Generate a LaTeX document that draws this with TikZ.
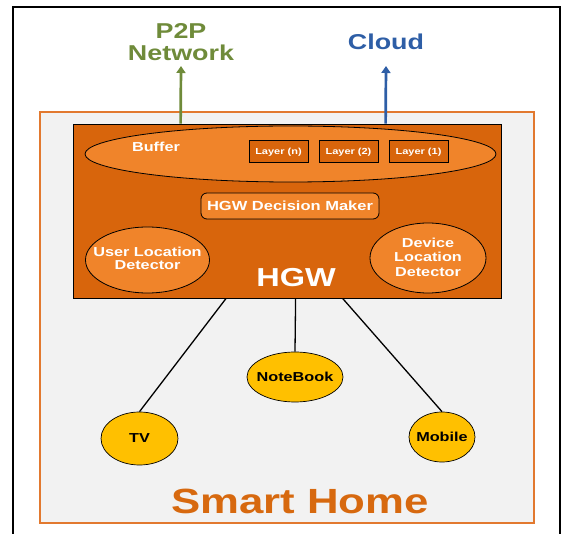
\documentclass[tikz,border=0pt]{standalone}
\usepackage{fontspec}
\setmainfont{Liberation Sans}[FakeStretch=1.25]
\usetikzlibrary{shapes.geometric,arrows.meta,calc}
\definecolor{homeBg}{HTML}{F2F2F2}
\definecolor{homeLine}{HTML}{E2792F}
\definecolor{homeText}{HTML}{D7690F}
\definecolor{hgwFill}{HTML}{D8650C}
\definecolor{partFill}{HTML}{F0842A}
\definecolor{devFill}{HTML}{FFC000}
\definecolor{p2pCol}{HTML}{6F8B3A}
\definecolor{cloudCol}{HTML}{2E5EA6}
\tikzset{
  txt/.style={inner sep=0pt, align=center, font=\bfseries},
  wtxt/.style={txt, text=white},
  part/.style={draw=black, line width=0.8pt, fill=partFill, inner sep=0pt},
  layerbox/.style={draw=black, line width=1pt, fill=hgwFill, minimum width=59pt,
    minimum height=22pt, inner sep=0pt, text=white,
    font=\bfseries\fontsize{8.8}{10}\selectfont},
  device/.style={ellipse, draw=black, line width=0.7pt, fill=devFill, inner sep=0pt},
  devtxt/.style={txt, font=\bfseries\fontsize{13}{15}\selectfont},
  link/.style={draw=black, line width=1.3pt},
  uplink/.style={line width=2.7pt, -{Triangle[width=9pt,length=7pt]}}
}
\begin{document}
\begin{tikzpicture}[x=1pt,y=-1pt]
\useasboundingbox (0,0) rectangle (563,534);
% outer frame (open at the bottom)
\draw[line width=1.4pt] (13,534) -- (13,7) -- (560,7) -- (560,534);
% smart home area
\node[draw=homeLine, line width=1.5pt, fill=homeBg, minimum width=494pt,
      minimum height=411pt, inner sep=0pt] (home) at (287,317.5) {};
\node[txt, text=homeText, font=\bfseries\fontsize{35}{40}\selectfont] (homeTxt) at (300,501) {Smart Home};
% home gateway
\node[draw=black, line width=0.8pt, fill=hgwFill, minimum width=428pt,
      minimum height=174pt, inner sep=0pt] (hgw) at (287,211) {};
\node[part, ellipse, minimum width=411pt, minimum height=56pt] (buffer) at (290.5,154) {};
\node[wtxt, font=\bfseries\fontsize{13}{15}\selectfont] (bufferTxt) at (156,147) {Buffer};
\node[layerbox] (layerN) at (278.5,152) {Layer (n)};
\node[layerbox] (layer2) at (348.5,152) {Layer (2)};
\node[layerbox] (layer1) at (418.5,152) {Layer (1)};
\node[part, rounded corners=6pt, minimum width=178pt, minimum height=26pt,
      wtxt, font=\bfseries\fontsize{13.2}{15}\selectfont] (decision) at (290,206) {HGW Decision Maker};
\node[part, ellipse, minimum width=124pt, minimum height=66pt] (userLoc) at (147.5,260) {};
\node[wtxt, font=\bfseries\fontsize{13}{13.5}\selectfont] (userTxt) at (147.5,258.5) {User Location\\Detector};
\node[part, ellipse, minimum width=116pt, minimum height=70pt] (devLoc) at (428,258) {};
\node[wtxt, font=\bfseries\fontsize{13}{14.5}\selectfont] (devTxt) at (428,257) {Device\\Location\\Detector};
\node[wtxt, font=\bfseries\fontsize{26}{30}\selectfont] (hgwTxt) at (296,278) {HGW};
% outside networks
\node[txt, text=p2pCol, font=\bfseries\fontsize{21.5}{22.5}\selectfont] (p2p) at (181,42) {P2P\\Network};
\node[txt, text=cloudCol, font=\bfseries\fontsize{21.5}{24}\selectfont] (cloud) at (386,42) {Cloud};
\coordinate (p2pFoot) at ($(hgw.north west)+(108,0)$);
\coordinate (cloudFoot) at ($(hgw.north west)+(313,0)$);
\coordinate (p2pTip) at (181,66);
\coordinate (cloudTip) at (386,66);
\draw[uplink, p2pCol] (p2pFoot) -- (p2pTip);
\draw[uplink, cloudCol] (cloudFoot) -- (cloudTip);
% devices
\node[device, minimum width=96pt, minimum height=50pt] (notebook) at (295,377) {};
\node[devtxt] (notebookTxt) at (295,377) {NoteBook};
\node[device, minimum width=77pt, minimum height=53pt] (tv) at (139.5,438.5) {};
\node[devtxt] (tvTxt) at (139.5,438.5) {TV};
\node[device, minimum width=66pt, minimum height=50pt] (mobile) at (442,437) {};
\node[devtxt] (mobileTxt) at (442,437) {Mobile};
\coordinate (tvFoot) at ($(hgw.south west)+(153.5,0)$);
\coordinate (nbFoot) at ($(hgw.south west)+(223,0)$);
\coordinate (mobFoot) at ($(hgw.south west)+(270,0)$);
\draw[link] (tvFoot) -- (tv.north);
\draw[link] (nbFoot) -- (notebook.north);
\draw[link] (mobFoot) -- (mobile.north);
\end{tikzpicture}
\end{document}
